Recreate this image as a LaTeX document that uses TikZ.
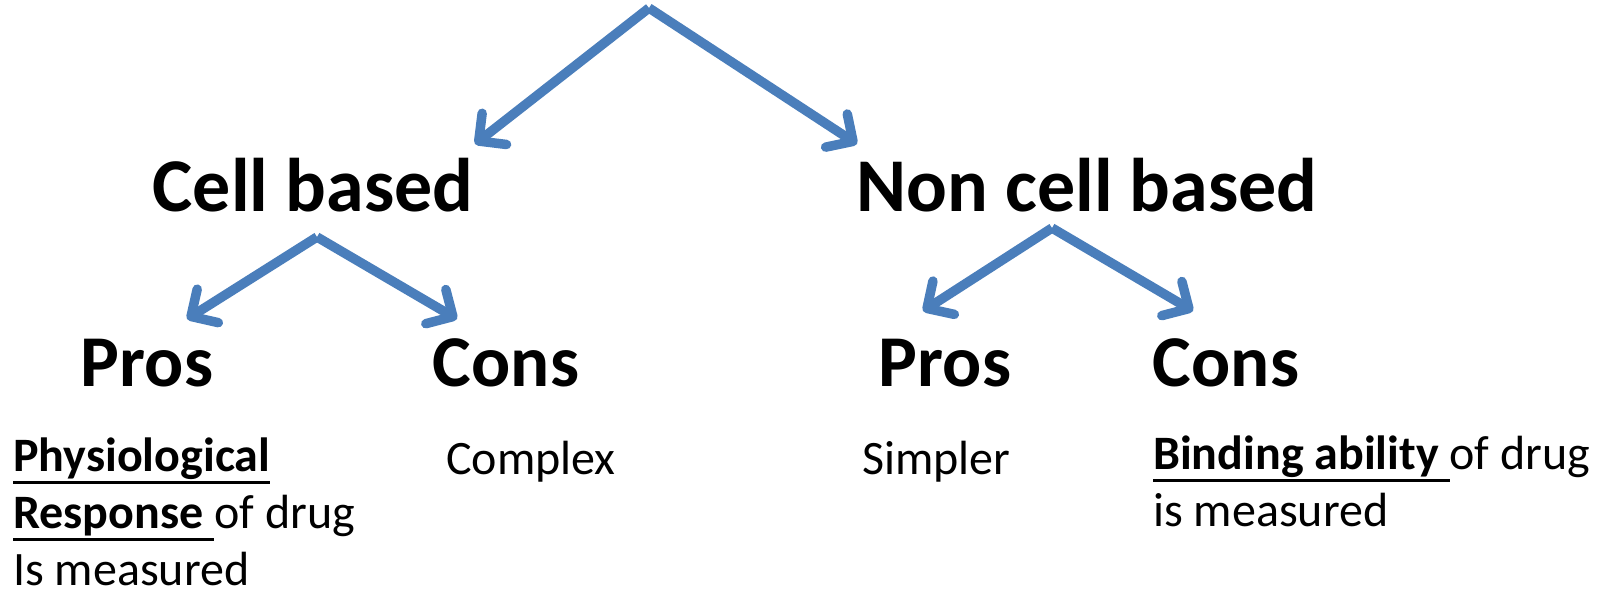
\documentclass[tikz,border=0pt]{standalone}
\usepackage{fontspec}
\setmainfont{Carlito}
\usetikzlibrary{arrows.meta}
\definecolor{arrowblue}{HTML}{4A7EBB}
% thick underline, trailing space included
\newcommand{\keyline}[1]{\setbox0\hbox{#1}\rlap{\rule[-13pt]{\wd0}{3.5pt}}\box0}

\begin{document}
\begin{tikzpicture}[x=1pt,y=-1pt,
  link/.style={arrowblue, line width=9.5pt, -{Straight Barb[round, angle=90:28pt]}},
  head/.style={anchor=base, inner sep=0pt, font=\fontsize{76}{90}\selectfont\bfseries},
  side/.style={anchor=base, inner sep=0pt, font=\fontsize{73}{88}\selectfont\bfseries},
  note/.style={anchor=base west, inner sep=0pt, align=left, font=\fontsize{48}{57}\selectfont}]
\useasboundingbox (0,0) rectangle (1600,590);

% top split
\coordinate (root) at (649,8);
\coordinate (celltip) at (475,144);
\coordinate (noncelltip) at (857,144);
\node[head] (cell) at (313,211) {Cell based};
\node[head] (noncell) at (1087,211) {Non cell based};
\draw [link] (root) -- (celltip);
\draw [link] (root) -- (noncelltip);

% cell based split
\coordinate (cellroot) at (317,237);
\coordinate (cellprotip) at (187,319);
\coordinate (cellcontip) at (457,319);
\node[side] (cellpro) at (147,386) {Pros};
\node[side] (cellcon) at (506,386) {Cons};
\draw [link] (cellroot) -- (cellprotip);
\draw [link] (cellroot) -- (cellcontip);

% non cell based split
\coordinate (noncellroot) at (1052,228);
\coordinate (noncellprotip) at (923,311);
\coordinate (noncellcontip) at (1193,311);
\node[side] (noncellpro) at (945,386) {Pros};
\node[side] (noncellcon) at (1226,386) {Cons};
\draw [link] (noncellroot) -- (noncellprotip);
\draw [link] (noncellroot) -- (noncellcontip);

% notes (base = last line)
\node[note] (cellpronote) at (13,585) {\keyline{\textbf{Physiological}}\\\keyline{\textbf{Response}\ }of drug\\Is measured};
\node[note] (cellconnote) at (446,474) {Complex};
\node[note] (noncellpronote) at (862,474) {Simpler};
\node[note] (noncellconnote) at (1153,526) {\keyline{\textbf{Binding ability}\ }of drug\\is measured};
\end{tikzpicture}
\end{document}
